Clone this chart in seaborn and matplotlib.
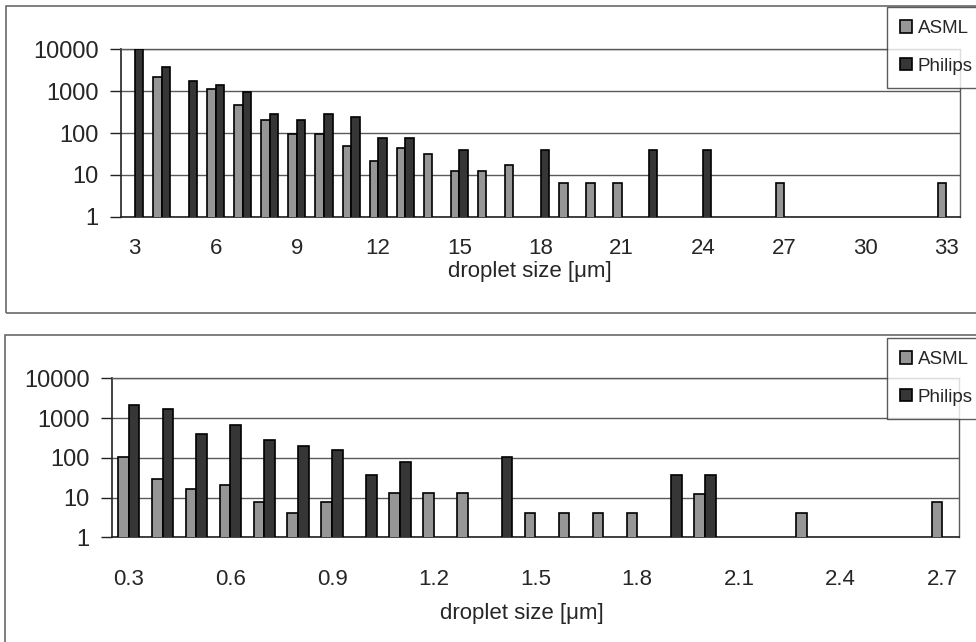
import numpy as np
import pandas as pd
import matplotlib
matplotlib.use("Agg")
import matplotlib.pyplot as plt
from matplotlib.patches import Rectangle, Patch
import seaborn as sns

# ---------------- data ----------------
top_sizes = [str(v) for v in range(3, 34)]
top_asml = [np.nan, 2230, np.nan, 1100, 460, 205, 96, 96, 49, 22, 43, 31, 12.3, 12.3, 17.5,
            np.nan, 6.3, 6.3, 6.3, np.nan, np.nan, np.nan, np.nan, np.nan, 6.3,
            np.nan, np.nan, np.nan, np.nan, np.nan, 6.3]
top_philips = [10000, 3880, 1750, 1400, 940, 290, 205, 290, 235, 77, 77, np.nan, 38.6, np.nan, np.nan,
               38.6, np.nan, np.nan, np.nan, 38.6, np.nan, 38.6, np.nan, np.nan, np.nan,
               np.nan, np.nan, np.nan, np.nan, np.nan, np.nan]
top_ticklabels = ["3", "6", "9", "12", "15", "18", "21", "24", "27", "30", "33"]

bot_sizes = ["%.1f" % (v / 10) for v in range(3, 28)]
bot_asml = [107, 29.4, 16, 20.8, 7.7, 4.2, 7.7, np.nan, 12.8, 12.8, 12.8, np.nan, 4.2, 4.2, 4.2,
            4.2, np.nan, 12.5, np.nan, np.nan, 4.2, np.nan, np.nan, np.nan, 7.6]
bot_philips = [2140, 1660, 400, 660, 280, 199, 157, 37, 77, np.nan, np.nan, 107, np.nan, np.nan, np.nan,
               np.nan, 37, 37, np.nan, np.nan, np.nan, np.nan, np.nan, np.nan, np.nan]
bot_ticklabels = ["0.3", "0.6", "0.9", "1.2", "1.5", "1.8", "2.1", "2.4", "2.7"]

series = ["ASML", "Philips"]
colors = {"ASML": "#969696", "Philips": "#363636"}
xlabel = "droplet size [\u03bcm]"

sns.set_theme(style="white")
plt.rcParams["font.family"] = ["Liberation Sans", "DejaVu Sans"]
FS = 16
LFS = 13.5

W, H = 976, 642
fig = plt.figure(figsize=(W / 100, H / 100), dpi=100)

# outer chart borders (extend past the image on the right / bottom)
fig.patches.append(Rectangle((6 / W, 1 - 313 / H), 1.2, 307 / H, transform=fig.transFigure,
                             fill=False, edgecolor="#6a6a6a", linewidth=1.2, zorder=0))
fig.patches.append(Rectangle((5 / W, -0.2), 1.2, (1 - 335 / H) + 0.2, transform=fig.transFigure,
                             fill=False, edgecolor="#6a6a6a", linewidth=1.2, zorder=0))


def panel(rect, cats, asml, philips, ticklabels, legend_y_px, xpad):
    ax = fig.add_axes(rect)
    df = pd.DataFrame({
        "size": cats * 2,
        "count": list(asml) + list(philips),
        "series": ["ASML"] * len(cats) + ["Philips"] * len(cats),
    })
    sns.barplot(data=df, x="size", y="count", hue="series", order=cats, hue_order=series,
                palette=colors, width=0.63, errorbar=None, edgecolor="black",
                linewidth=1.2, ax=ax, legend=False, zorder=3)
    ax.set_yscale("log")
    ax.set_ylim(1, 10000)
    ax.set_xlim(-0.5, len(cats) - 0.5)
    ax.set_yticks([1, 10, 100, 1000, 10000])
    ax.set_yticklabels(["1", "10", "100", "1000", "10000"], fontsize=17)
    ax.yaxis.set_minor_locator(matplotlib.ticker.NullLocator())
    ax.set_ylabel("")
    ax.grid(axis="y", which="major", color="#5a5a5a", linewidth=1.0, zorder=0)
    ax.set_axisbelow(True)
    # labels every 3rd category, tick marks between categories
    ax.set_xticks(np.arange(0, len(cats), 3))
    ax.set_xticklabels(ticklabels, fontsize=FS)
    ax.set_xticks(np.arange(-0.5, len(cats) - 1, 3), minor=True)
    ax.tick_params(axis="x", which="major", length=0, pad=xpad)
    ax.tick_params(axis="x", which="minor", length=8, width=1.0, color="#222222", direction="out")
    ax.tick_params(axis="y", which="major", length=8, width=1.0, color="#222222",
                   direction="out", pad=8, left=True)
    ax.set_xlabel(xlabel, fontsize=FS)
    ax.xaxis.label.set_verticalalignment("center")
    for s in ["left", "bottom"]:
        ax.spines[s].set_color("#222222")
        ax.spines[s].set_linewidth(1.2)
    for s in ["top", "right"]:
        ax.spines[s].set_color("#5a5a5a")
        ax.spines[s].set_linewidth(1.0)
    handles = [Patch(facecolor=colors[s], edgecolor="black", linewidth=1.2, label=s) for s in series]
    leg = fig.legend(handles=handles, loc="upper left",
                     bbox_to_anchor=(887 / W, 1 - legend_y_px / H), bbox_transform=fig.transFigure,
                     fontsize=LFS, frameon=True, fancybox=False, edgecolor="#333333",
                     handlelength=0.65, handleheight=0.65, handletextpad=0.3,
                     labelspacing=1.1, borderpad=0.7, borderaxespad=0)
    leg.get_frame().set_linewidth(1.0)
    leg.set_zorder(10)
    return ax


ax1 = panel([121 / W, 1 - 216.7 / H, (960 - 121) / W, (216.7 - 49.3) / H],
            top_sizes, top_asml, top_philips, top_ticklabels, 7, 15)
ax2 = panel([111.7 / W, 1 - 537.3 / H, (959.3 - 111.7) / W, (537.3 - 378.3) / H],
            bot_sizes, bot_asml, bot_philips, bot_ticklabels, 338, 23)

# x-axis title positions (axes fraction)
ax1.xaxis.set_label_coords(0.4875, -(271 - 216.7) / (216.7 - 49.3))
ax2.xaxis.set_label_coords(0.484, -(613 - 537.3) / (537.3 - 378.3))

fig.savefig("out.png", dpi=100)
